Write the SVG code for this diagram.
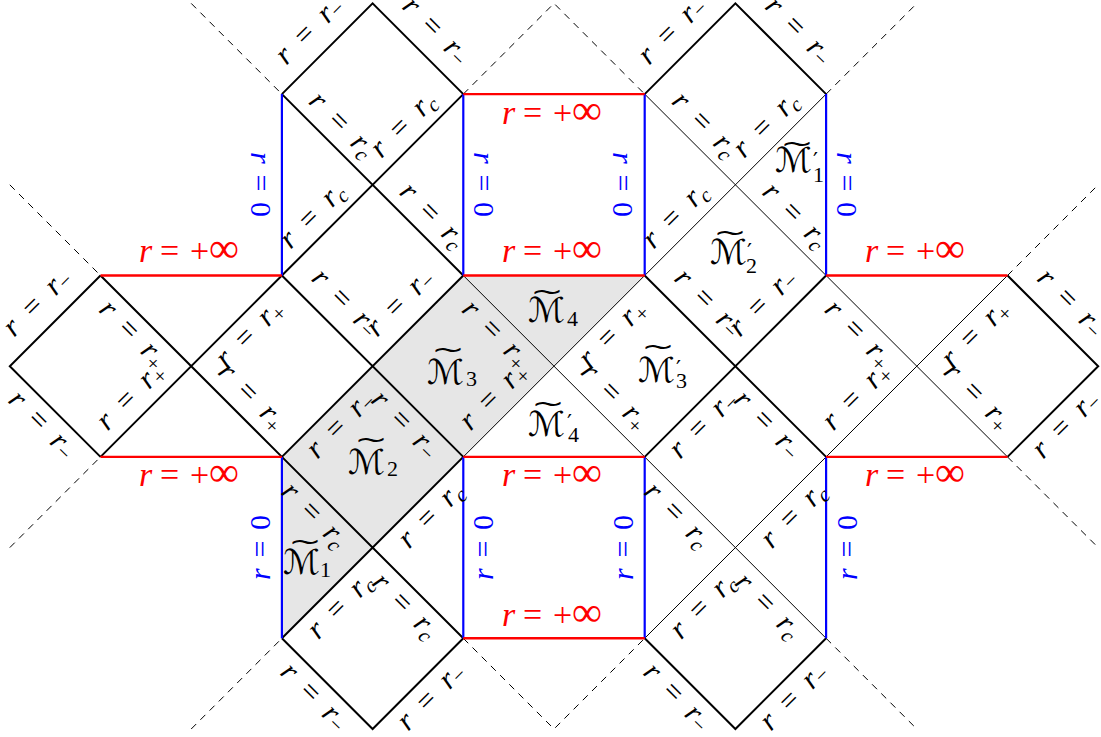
<svg xmlns="http://www.w3.org/2000/svg" width="1101" height="737" viewBox="0 0 1101 737">
<defs>
<style>
.k{stroke:#000;stroke-width:2;fill:none;stroke-linejoin:miter}
.n{stroke:#000;stroke-width:1;fill:none}
.d{stroke:#000;stroke-width:1;fill:none;stroke-dasharray:7 6}
.b{stroke:#0000ff;stroke-width:2.2;fill:none}
.rd{stroke:#ff0000;stroke-width:2.4;fill:none}
.L{font-family:"Liberation Serif",serif;font-size:30px;text-anchor:middle;fill:#000}
.rl{font-family:"Liberation Serif",serif;font-size:34px;fill:#ff0000}
.i{font-style:italic}
.s{font-size:21px}
.blue{fill:#0000ff}
.inf{font-size:42px}
.M{font-family:"DejaVu Sans",sans-serif;font-size:34px;fill:#000}
.sub{font-family:"Liberation Serif",serif;font-size:22px;fill:#000}
.pr{font-family:"DejaVu Sans",sans-serif;font-size:22px;fill:#000}
.tl{font-family:"DejaVu Sans",sans-serif;font-size:40px;text-anchor:middle;fill:#000}
</style>
</defs>
<rect x="0" y="0" width="1101" height="737" fill="#fff"/>
<g id="shaded">
<polygon points="281.9,456.9 463.3,275.5 644.7,275.5 281.9,638.3" fill="#e6e6e6"/>
</g>
<g id="connectors">
<path class="d" d="M191.2,3.4 L281.9,94.1 M463.3,94.1 L554,3.4 L644.7,94.1 M826.1,94.1 L916.8,3.4 M9.8,184.8 L100.5,275.5 M1007.5,275.5 L1098.2,184.8 M9.8,547.6 L100.5,456.9 M1007.5,456.9 L1098.2,547.6 M191.2,729 L281.9,638.3 M463.3,638.3 L554,729 L644.7,638.3 M826.1,638.3 L916.8,729"/>
<path class="n" d="M644.7,94.1 L826.1,275.5 M826.1,94.1 L644.7,275.5 M463.3,275.5 L644.7,456.9 M644.7,275.5 L463.3,456.9 M826.1,275.5 L1007.5,456.9 M1007.5,275.5 L826.1,456.9 M644.7,456.9 L826.1,638.3 M826.1,456.9 L644.7,638.3"/>
<path class="k" d="M281.9,94.1 L372.6,3.4 L463.3,94.1 M281.9,94.1 L463.3,275.5 M463.3,94.1 L281.9,275.5 M281.9,275.5 L463.3,456.9 M463.3,275.5 L281.9,456.9 M281.9,456.9 L463.3,638.3 M463.3,456.9 L281.9,638.3 M281.9,638.3 L372.6,729 L463.3,638.3 M644.7,94.1 L735.4,3.4 L826.1,94.1 M644.7,275.5 L826.1,456.9 M826.1,275.5 L644.7,456.9 M644.7,638.3 L735.4,729 L826.1,638.3 M100.5,275.5 L281.9,456.9 M281.9,275.5 L100.5,456.9 M100.5,275.5 L9.8,366.2 L100.5,456.9 M1007.5,275.5 L1098.2,366.2 L1007.5,456.9"/>
<path class="b" d="M281.9,94.1 V275.5 M463.3,94.1 V275.5 M644.7,94.1 V275.5 M826.1,94.1 V275.5 M281.9,456.9 V638.3 M463.3,456.9 V638.3 M644.7,456.9 V638.3 M826.1,456.9 V638.3"/>
<path class="rd" d="M463.3,94.1 H644.7 M100.5,275.5 H281.9 M463.3,275.5 H644.7 M826.1,275.5 H1007.5 M100.5,456.9 H281.9 M463.3,456.9 H644.7 M826.1,456.9 H1007.5 M463.3,638.3 H644.7"/>
</g>
<g id="boundary-labels">
<text class="rl" y="124"><tspan class="i" x="502">r</tspan><tspan x="523">=</tspan><tspan x="553">+</tspan><tspan class="inf" x="572">∞</tspan></text>
<text class="rl" y="262"><tspan class="i" x="139">r</tspan><tspan x="160">=</tspan><tspan x="190">+</tspan><tspan class="inf" x="209">∞</tspan></text>
<text class="rl" y="262"><tspan class="i" x="502">r</tspan><tspan x="523">=</tspan><tspan x="553">+</tspan><tspan class="inf" x="572">∞</tspan></text>
<text class="rl" y="262"><tspan class="i" x="865">r</tspan><tspan x="886">=</tspan><tspan x="916">+</tspan><tspan class="inf" x="935">∞</tspan></text>
<text class="rl" y="486"><tspan class="i" x="139">r</tspan><tspan x="160">=</tspan><tspan x="190">+</tspan><tspan class="inf" x="209">∞</tspan></text>
<text class="rl" y="486"><tspan class="i" x="502">r</tspan><tspan x="523">=</tspan><tspan x="553">+</tspan><tspan class="inf" x="572">∞</tspan></text>
<text class="rl" y="486"><tspan class="i" x="865">r</tspan><tspan x="886">=</tspan><tspan x="916">+</tspan><tspan class="inf" x="935">∞</tspan></text>
<text class="rl" y="626"><tspan class="i" x="502">r</tspan><tspan x="523">=</tspan><tspan x="553">+</tspan><tspan class="inf" x="572">∞</tspan></text>
<text class="L blue" transform="translate(251,184.5) rotate(90)" textLength="65"><tspan class="i">r</tspan> = 0</text>
<text class="L blue" transform="translate(474,184.5) rotate(90)" textLength="65"><tspan class="i">r</tspan> = 0</text>
<text class="L blue" transform="translate(613,184.5) rotate(90)" textLength="65"><tspan class="i">r</tspan> = 0</text>
<text class="L blue" transform="translate(837,184.5) rotate(90)" textLength="65"><tspan class="i">r</tspan> = 0</text>
<text class="L blue" transform="translate(270,547.5) rotate(-90)" textLength="65"><tspan class="i">r</tspan> = 0</text>
<text class="L blue" transform="translate(493,547.5) rotate(-90)" textLength="65"><tspan class="i">r</tspan> = 0</text>
<text class="L blue" transform="translate(633,547.5) rotate(-90)" textLength="65"><tspan class="i">r</tspan> = 0</text>
<text class="L blue" transform="translate(857,547.5) rotate(-90)" textLength="65"><tspan class="i">r</tspan> = 0</text>
</g>
<g id="edge-labels">
<text class="L" transform="translate(327.25,48.75) rotate(-45)" y="-17"><tspan class="i">r</tspan>&#8194;=&#8194;<tspan class="i">r</tspan><tspan class="s" dy="3">−</tspan></text>
<text class="L" transform="translate(417.95,48.75) rotate(45)" y="-17"><tspan class="i">r</tspan>&#8194;=&#8194;<tspan class="i">r</tspan><tspan class="s" dy="3">−</tspan></text>
<text class="L" transform="translate(690.05,48.75) rotate(-45)" y="-17"><tspan class="i">r</tspan>&#8194;=&#8194;<tspan class="i">r</tspan><tspan class="s" dy="3">−</tspan></text>
<text class="L" transform="translate(780.75,48.75) rotate(45)" y="-17"><tspan class="i">r</tspan>&#8194;=&#8194;<tspan class="i">r</tspan><tspan class="s" dy="3">−</tspan></text>

<text class="L" transform="translate(327.25,139.45) rotate(45)" y="-12"><tspan class="i">r</tspan>&#8194;=&#8194;<tspan class="i">r</tspan><tspan class="s i" dy="5">c</tspan></text>
<text class="L" transform="translate(417.95,139.45) rotate(-45)" y="-12"><tspan class="i">r</tspan>&#8194;=&#8194;<tspan class="i">r</tspan><tspan class="s i" dy="5">c</tspan></text>
<text class="L" transform="translate(690.05,139.45) rotate(45)" y="-12"><tspan class="i">r</tspan>&#8194;=&#8194;<tspan class="i">r</tspan><tspan class="s i" dy="5">c</tspan></text>
<text class="L" transform="translate(780.75,139.45) rotate(-45)" y="-12"><tspan class="i">r</tspan>&#8194;=&#8194;<tspan class="i">r</tspan><tspan class="s i" dy="5">c</tspan></text>

<text class="L" transform="translate(327.25,230.15) rotate(-45)" y="-12"><tspan class="i">r</tspan>&#8194;=&#8194;<tspan class="i">r</tspan><tspan class="s i" dy="5">c</tspan></text>
<text class="L" transform="translate(417.95,230.15) rotate(45)" y="-12"><tspan class="i">r</tspan>&#8194;=&#8194;<tspan class="i">r</tspan><tspan class="s i" dy="5">c</tspan></text>
<text class="L" transform="translate(690.05,230.15) rotate(-45)" y="-12"><tspan class="i">r</tspan>&#8194;=&#8194;<tspan class="i">r</tspan><tspan class="s i" dy="5">c</tspan></text>
<text class="L" transform="translate(780.75,230.15) rotate(45)" y="-12"><tspan class="i">r</tspan>&#8194;=&#8194;<tspan class="i">r</tspan><tspan class="s i" dy="5">c</tspan></text>

<text class="L" transform="translate(55.15,320.85) rotate(-45)" y="-17"><tspan class="i">r</tspan>&#8194;=&#8194;<tspan class="i">r</tspan><tspan class="s" dy="3">−</tspan></text>
<text class="L" transform="translate(145.85,320.85) rotate(45)" y="27"><tspan class="i">r</tspan>&#8194;=&#8194;<tspan class="i">r</tspan><tspan class="s" dy="5">+</tspan></text>
<text class="L" transform="translate(236.55,320.85) rotate(-45)" y="27"><tspan class="i">r</tspan>&#8194;=&#8194;<tspan class="i">r</tspan><tspan class="s" dy="5">+</tspan></text>
<text class="L" transform="translate(327.25,320.85) rotate(45)" y="-17"><tspan class="i">r</tspan>&#8194;=&#8194;<tspan class="i">r</tspan><tspan class="s" dy="3">−</tspan></text>
<text class="L" transform="translate(417.95,320.85) rotate(-45)" y="-17"><tspan class="i">r</tspan>&#8194;=&#8194;<tspan class="i">r</tspan><tspan class="s" dy="3">−</tspan></text>
<text class="L" transform="translate(508.65,320.85) rotate(45)" y="27"><tspan class="i">r</tspan>&#8194;=&#8194;<tspan class="i">r</tspan><tspan class="s" dy="5">+</tspan></text>
<text class="L" transform="translate(599.35,320.85) rotate(-45)" y="27"><tspan class="i">r</tspan>&#8194;=&#8194;<tspan class="i">r</tspan><tspan class="s" dy="5">+</tspan></text>
<text class="L" transform="translate(690.05,320.85) rotate(45)" y="-17"><tspan class="i">r</tspan>&#8194;=&#8194;<tspan class="i">r</tspan><tspan class="s" dy="3">−</tspan></text>
<text class="L" transform="translate(780.75,320.85) rotate(-45)" y="-17"><tspan class="i">r</tspan>&#8194;=&#8194;<tspan class="i">r</tspan><tspan class="s" dy="3">−</tspan></text>
<text class="L" transform="translate(871.45,320.85) rotate(45)" y="27"><tspan class="i">r</tspan>&#8194;=&#8194;<tspan class="i">r</tspan><tspan class="s" dy="5">+</tspan></text>
<text class="L" transform="translate(962.15,320.85) rotate(-45)" y="27"><tspan class="i">r</tspan>&#8194;=&#8194;<tspan class="i">r</tspan><tspan class="s" dy="5">+</tspan></text>
<text class="L" transform="translate(1052.85,320.85) rotate(45)" y="-17"><tspan class="i">r</tspan>&#8194;=&#8194;<tspan class="i">r</tspan><tspan class="s" dy="3">−</tspan></text>

<text class="L" transform="translate(55.15,411.55) rotate(45)" y="27"><tspan class="i">r</tspan>&#8194;=&#8194;<tspan class="i">r</tspan><tspan class="s" dy="3">−</tspan></text>
<text class="L" transform="translate(145.85,411.55) rotate(-45)" y="-13"><tspan class="i">r</tspan>&#8194;=&#8194;<tspan class="i">r</tspan><tspan class="s" dy="5">+</tspan></text>
<text class="L" transform="translate(236.55,411.55) rotate(45)" y="-13"><tspan class="i">r</tspan>&#8194;=&#8194;<tspan class="i">r</tspan><tspan class="s" dy="5">+</tspan></text>
<text class="L" transform="translate(327.25,411.55) rotate(-45)" y="27"><tspan class="i">r</tspan>&#8194;=&#8194;<tspan class="i">r</tspan><tspan class="s" dy="3">−</tspan></text>
<text class="L" transform="translate(417.95,411.55) rotate(45)" y="27"><tspan class="i">r</tspan>&#8194;=&#8194;<tspan class="i">r</tspan><tspan class="s" dy="3">−</tspan></text>
<text class="L" transform="translate(508.65,411.55) rotate(-45)" y="-13"><tspan class="i">r</tspan>&#8194;=&#8194;<tspan class="i">r</tspan><tspan class="s" dy="5">+</tspan></text>
<text class="L" transform="translate(599.35,411.55) rotate(45)" y="-13"><tspan class="i">r</tspan>&#8194;=&#8194;<tspan class="i">r</tspan><tspan class="s" dy="5">+</tspan></text>
<text class="L" transform="translate(690.05,411.55) rotate(-45)" y="27"><tspan class="i">r</tspan>&#8194;=&#8194;<tspan class="i">r</tspan><tspan class="s" dy="3">−</tspan></text>
<text class="L" transform="translate(780.75,411.55) rotate(45)" y="27"><tspan class="i">r</tspan>&#8194;=&#8194;<tspan class="i">r</tspan><tspan class="s" dy="3">−</tspan></text>
<text class="L" transform="translate(871.45,411.55) rotate(-45)" y="-13"><tspan class="i">r</tspan>&#8194;=&#8194;<tspan class="i">r</tspan><tspan class="s" dy="5">+</tspan></text>
<text class="L" transform="translate(962.15,411.55) rotate(45)" y="-13"><tspan class="i">r</tspan>&#8194;=&#8194;<tspan class="i">r</tspan><tspan class="s" dy="5">+</tspan></text>
<text class="L" transform="translate(1052.85,411.55) rotate(-45)" y="27"><tspan class="i">r</tspan>&#8194;=&#8194;<tspan class="i">r</tspan><tspan class="s" dy="3">−</tspan></text>

<text class="L" transform="translate(327.25,502.25) rotate(45)" y="27"><tspan class="i">r</tspan>&#8194;=&#8194;<tspan class="i">r</tspan><tspan class="s i" dy="5">c</tspan></text>
<text class="L" transform="translate(417.95,502.25) rotate(-45)" y="27"><tspan class="i">r</tspan>&#8194;=&#8194;<tspan class="i">r</tspan><tspan class="s i" dy="5">c</tspan></text>
<text class="L" transform="translate(690.05,502.25) rotate(45)" y="27"><tspan class="i">r</tspan>&#8194;=&#8194;<tspan class="i">r</tspan><tspan class="s i" dy="5">c</tspan></text>
<text class="L" transform="translate(780.75,502.25) rotate(-45)" y="27"><tspan class="i">r</tspan>&#8194;=&#8194;<tspan class="i">r</tspan><tspan class="s i" dy="5">c</tspan></text>

<text class="L" transform="translate(327.25,592.95) rotate(-45)" y="27"><tspan class="i">r</tspan>&#8194;=&#8194;<tspan class="i">r</tspan><tspan class="s i" dy="5">c</tspan></text>
<text class="L" transform="translate(417.95,592.95) rotate(45)" y="27"><tspan class="i">r</tspan>&#8194;=&#8194;<tspan class="i">r</tspan><tspan class="s i" dy="5">c</tspan></text>
<text class="L" transform="translate(690.05,592.95) rotate(-45)" y="27"><tspan class="i">r</tspan>&#8194;=&#8194;<tspan class="i">r</tspan><tspan class="s i" dy="5">c</tspan></text>
<text class="L" transform="translate(780.75,592.95) rotate(45)" y="27"><tspan class="i">r</tspan>&#8194;=&#8194;<tspan class="i">r</tspan><tspan class="s i" dy="5">c</tspan></text>

<text class="L" transform="translate(327.25,683.65) rotate(45)" y="27"><tspan class="i">r</tspan>&#8194;=&#8194;<tspan class="i">r</tspan><tspan class="s" dy="3">−</tspan></text>
<text class="L" transform="translate(417.95,683.65) rotate(-45)" y="27"><tspan class="i">r</tspan>&#8194;=&#8194;<tspan class="i">r</tspan><tspan class="s" dy="3">−</tspan></text>
<text class="L" transform="translate(690.05,683.65) rotate(45)" y="27"><tspan class="i">r</tspan>&#8194;=&#8194;<tspan class="i">r</tspan><tspan class="s" dy="3">−</tspan></text>
<text class="L" transform="translate(780.75,683.65) rotate(-45)" y="27"><tspan class="i">r</tspan>&#8194;=&#8194;<tspan class="i">r</tspan><tspan class="s" dy="3">−</tspan></text>
</g>
<g id="M1">
<text class="tl" transform="translate(305,542) scale(1,0.6)" y="13">~</text>
<text class="M" x="283" y="574" textLength="37" lengthAdjust="spacingAndGlyphs">ℳ</text>
<text class="sub" x="320" y="577">1</text>
</g>
<g id="M2">
<text class="tl" transform="translate(371,440) scale(1,0.6)" y="13">~</text>
<text class="M" x="348" y="474" textLength="37" lengthAdjust="spacingAndGlyphs">ℳ</text>
<text class="sub" x="387" y="476">2</text>
</g>
<g id="M3">
<text class="tl" transform="translate(448,350) scale(1,0.6)" y="13">~</text>
<text class="M" x="427" y="384" textLength="37" lengthAdjust="spacingAndGlyphs">ℳ</text>
<text class="sub" x="466" y="386">3</text>
</g>
<g id="M4">
<text class="tl" transform="translate(547,292) scale(1,0.6)" y="13">~</text>
<text class="M" x="528" y="322" textLength="37" lengthAdjust="spacingAndGlyphs">ℳ</text>
<text class="sub" x="567" y="326">4</text>
</g>
<g id="M1p">
<text class="tl" transform="translate(797,144) scale(1,0.6)" y="13">~</text>
<text class="M" x="775" y="172" textLength="37" lengthAdjust="spacingAndGlyphs">ℳ</text>
<text class="pr" x="813" y="168">′</text>
<text class="sub" x="813" y="182">1</text>
</g>
<g id="M2p">
<text class="tl" transform="translate(730,233) scale(1,0.6)" y="13">~</text>
<text class="M" x="710" y="264" textLength="37" lengthAdjust="spacingAndGlyphs">ℳ</text>
<text class="pr" x="747" y="259">′</text>
<text class="sub" x="746" y="273">2</text>
</g>
<g id="M3p">
<text class="tl" transform="translate(658,347) scale(1,0.6)" y="13">~</text>
<text class="M" x="638" y="382" textLength="37" lengthAdjust="spacingAndGlyphs">ℳ</text>
<text class="pr" x="676" y="376">′</text>
<text class="sub" x="676" y="388">3</text>
</g>
<g id="M4p">
<text class="tl" transform="translate(548,404) scale(1,0.6)" y="13">~</text>
<text class="M" x="528" y="436" textLength="37" lengthAdjust="spacingAndGlyphs">ℳ</text>
<text class="pr" x="567" y="430">′</text>
<text class="sub" x="568" y="442">4</text>
</g>
</svg>
